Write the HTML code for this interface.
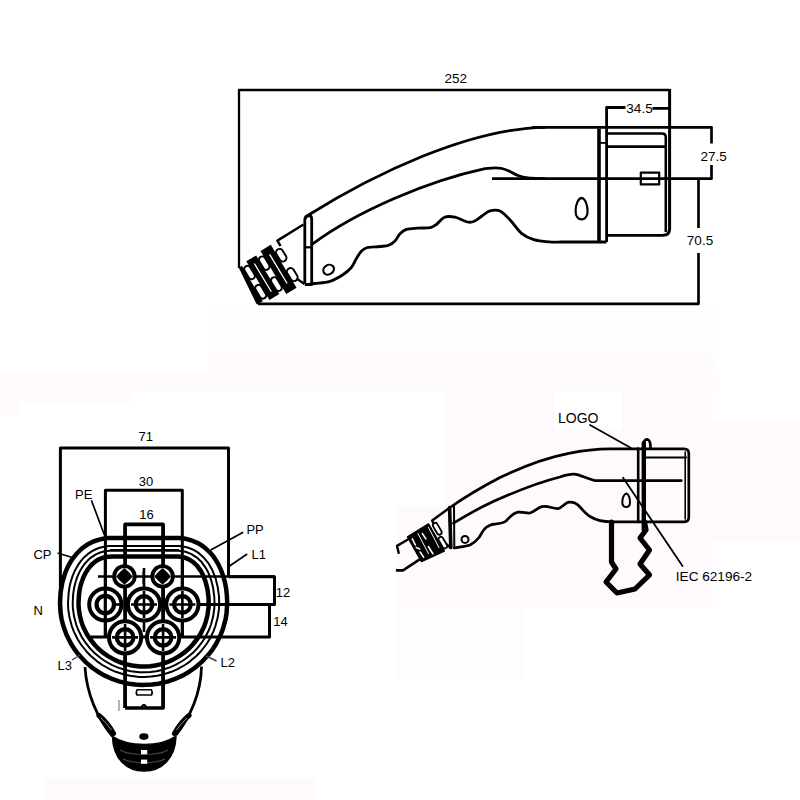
<!DOCTYPE html>
<html><head><meta charset="utf-8"><style>
html,body{margin:0;padding:0;background:#fff;}
svg{display:block;}
text{font-family:"Liberation Sans",sans-serif;fill:#000;}
</style></head><body>
<svg width="800" height="800" viewBox="0 0 800 800">
<g id="bg" stroke="none">
  <rect x="208" y="311" width="512" height="45" fill="#fefdfe"/>
  <rect x="208" y="356" width="508" height="16" fill="#fefafe"/>
  <rect x="0" y="372" width="720" height="20" fill="#fefafe"/>
  <rect x="0" y="392" width="132" height="10" fill="#fefafe"/>
  <rect x="0" y="402" width="20" height="13" fill="#fefafe"/>
  <path d="M445,392 H554 V430 H622 V392 H713 V422 H800 V542 H713 V608 H682 V608 H397 V506 H445 Z" fill="#fdf9fd"/>
  <rect x="397" y="608" width="128" height="72" fill="#fefcfe"/>
  <rect x="45" y="778" width="270" height="22" fill="#fdf9fd"/>
</g>

<g id="top" fill="none" stroke="#000" stroke-width="2.4" stroke-linejoin="round" stroke-linecap="butt">
  <!-- dimension 252 -->
  <path d="M239,268 V90 H669.6" stroke-width="2.3"/>
  <path d="M669.6,89 V229 Q669.6,235.3 663,235.3" stroke-width="3"/>
  <text x="455.7" y="82.9" font-size="13.5" text-anchor="middle" stroke="none">252</text>
  <!-- 34.5 -->
  <path d="M606.6,242 V107.5 H625.5 M652.5,108.3 H669.5" stroke-width="2.8"/>
  <text x="639.5" y="112.6" font-size="13.5" text-anchor="middle" stroke="none">34.5</text>
  <!-- 27.5 -->
  <path d="M532,127.3 H711.5 V143.5 M711.5,165 V178.7 H492" stroke-width="2.7"/>
  <text x="713.7" y="160.6" font-size="13.5" text-anchor="middle" stroke="none">27.5</text>
  <!-- 70.5 -->
  <path d="M698.5,178.7 V228 M698.5,253 V303.8 H258" stroke-width="2.7"/>
  <text x="700" y="244.8" font-size="13.5" text-anchor="middle" stroke="none">70.5</text>
  <!-- body outer top -->
  <path d="M304.8,219 Q306,216 308.5,215"/>
  <path d="M308.5,215.0 C373.3,174.7 467.4,128.7 545.0,127.3" stroke-width="2.8"/>
  <!-- inner line -->
  <path d="M312.0,244.3 C357.8,210.4 429.4,180.5 485.0,168.6 M485.0,168.6 C486.7,168.5 492.2,167.8 495.0,167.8 C497.8,167.8 499.5,167.9 502.0,168.5 C504.5,169.1 507.3,170.3 510.0,171.5 C512.7,172.7 515.0,174.4 518.0,175.5 C521.0,176.6 523.5,177.3 528.0,177.8 C532.5,178.3 542.2,178.5 545.0,178.7" stroke-width="2.8" stroke-linecap="round"/>
  <!-- grip -->
  <path d="M307.0,284.5 C308.3,284.3 311.2,284.0 315.0,283.5 C318.8,283.0 325.4,282.7 330.0,281.3 C334.6,279.9 338.9,277.3 342.5,275.0 C346.1,272.7 349.0,270.2 351.3,267.5 C353.6,264.8 354.6,261.5 356.3,258.8 C358.0,256.1 359.4,253.2 361.3,251.3 C363.2,249.4 364.4,248.3 367.5,247.5 C370.6,246.7 376.4,246.9 380.0,246.5 C383.6,246.1 386.3,246.1 388.8,245.2 C391.3,244.3 393.1,242.9 395.0,241.0 C396.9,239.1 398.1,235.7 400.0,233.8 C401.9,231.9 403.4,230.4 406.3,229.4 C409.2,228.4 413.5,228.4 417.5,228.1 C421.5,227.8 427.2,228.3 430.5,227.6 C433.8,226.9 434.7,225.7 437.0,224.0 C439.3,222.3 441.5,218.3 444.5,217.2 C447.5,216.1 451.2,216.4 455.0,217.2 C458.8,218.0 464.1,221.3 467.3,222.0 C470.5,222.7 471.9,222.3 474.3,221.3 C476.8,220.3 479.4,217.8 482.0,216.0 C484.6,214.2 486.9,211.6 490.0,210.8 C493.1,210.0 497.0,209.5 500.5,211.2 C504.0,212.9 507.5,217.3 511.0,221.0 C514.5,224.7 517.7,230.2 521.5,233.3 C525.3,236.4 529.1,238.2 533.8,239.6 C538.5,241.0 545.1,241.5 549.5,241.9 C553.9,242.3 558.2,242.0 560.0,242.0 H606.5" stroke-width="2.8"/>
  <!-- collar -->
  <path d="M304.8,284 V220 Q305,216 308.5,215.5 Q311.7,215.5 311.7,219 V284.5 H304.8" stroke-width="2.8"/>
  <path d="M304.8,247.3 H311.7" stroke-width="2.2"/>
  <!-- front box -->
  <path d="M599,128.5 V242" stroke-width="3.6"/>
  <path d="M599,142.9 H606.5" stroke-width="1.8"/>
  <path d="M606.5,133.5 H662 Q665.8,133.5 665.8,137.5 V232" stroke-width="2.6"/>
  <path d="M663,235.3 H606.5" stroke-width="2.8"/>
  <path d="M606.5,146.7 H666" stroke-width="2.8"/>
  <rect x="640.8" y="172.6" width="18.4" height="11.8" stroke-width="2.2"/>
  <!-- droplet -->
  <path d="M581.6,197.9 C585.5,198.5 587.6,206 587.6,211 C587.6,216.5 584.8,219.4 581.6,219.4 C578.3,219.4 575.6,216.5 575.6,211 C575.6,205 578,198.5 581.6,197.9 Z" stroke-width="2.2"/>
  <!-- small ellipse -->
  <ellipse cx="328.6" cy="269.7" rx="5.6" ry="4.6" transform="rotate(-35 328.6 269.7)" stroke-width="2.2"/>
  <!-- relief -->
  <g transform="translate(258.5,303) rotate(-31)">
    <path d="M-2.3,0.5 L1.2,-40.3 L5,-40.5 L4.5,0.8 Z" fill="#000" stroke="none"/>
    <path d="M11,-42 H22.5 V3 H11 Z" fill="#000" stroke="none"/>
    <path d="M28.5,-43.5 H40.5 V6.5 H28.5 Z" fill="#000" stroke="none"/>
    <g fill="#fff" stroke="#000" stroke-width="2">
      <rect x="4.7" y="-38" width="6.6" height="14.5" rx="3.3"/>
      <rect x="4.4" y="-16" width="6.6" height="15" rx="3.3"/>
      <rect x="22.2" y="-38.5" width="6.6" height="14.5" rx="3.3"/>
      <rect x="21.8" y="-14.5" width="6.6" height="15" rx="3.3"/>
      <rect x="40.5" y="-36" width="7.2" height="13.5" rx="3.6"/>
      <rect x="40" y="-14" width="7.2" height="14" rx="3.6"/>
    </g>
    <path d="M16.8,-36 V-3 M34.6,-36 V-2" stroke="#fff" stroke-width="1.3"/>
  </g>
  <path d="M303.5,224.5 L277.4,240.6 L280.5,246" stroke-width="2.5"/>
  <path d="M304.5,284 L296.5,278.5" stroke-width="2.4"/>
</g>

<g id="left" fill="none" stroke="#000" stroke-width="2.8" stroke-linejoin="round">
  <!-- 71 box -->
  <path d="M60.4,600 V448 H228.5 V576.9" stroke-width="3"/>
  <text x="145.8" y="441.3" font-size="13" text-anchor="middle" stroke="none">71</text>
  <!-- 30 box -->
  <path d="M105.4,637.4 V490.2 H182.3 V637.4" stroke-width="3"/>
  <text x="146" y="486" font-size="13" text-anchor="middle" stroke="none">30</text>
  <!-- 16 box -->
  <path d="M125.1,708 V524.4 H163.1 V708 H125.1" stroke-width="3.6"/>
  <text x="146.6" y="519" font-size="13" text-anchor="middle" stroke="none">16</text>
  <!-- 12 / 14 -->
  <path d="M228.5,576.7 H274.5 V604.6 H182" stroke-width="3"/>
  <path d="M269.5,604.6 V636.9 H90.5" stroke-width="3"/>
  <text x="283" y="597" font-size="13" text-anchor="middle" stroke="none">12</text>
  <text x="280.5" y="626" font-size="13" text-anchor="middle" stroke="none">14</text>
  <!-- rings -->
  <path d="M227.2,603.0 L226.9,595.8 L226.2,588.9 L224.9,582.1 L223.1,575.7 L220.8,569.6 L218.1,563.9 L214.9,558.6 L213.1,556.1 L209.1,551.6 L204.7,547.6 L199.9,544.2 L197.3,542.8 L191.7,540.5 L185.8,538.8 L179.4,538.0 L176.0,537.9 L108.6,538.0 L105.4,538.3 L99.2,539.6 L93.4,541.5 L88.0,544.2 L83.1,547.6 L80.8,549.5 L76.5,553.8 L72.7,558.6 L71.0,561.2 L67.9,566.7 L65.3,572.6 L62.4,582.1 L60.6,592.3 L60.0,603.0 L60.6,612.8 L61.6,619.2 L63.2,625.5 L66.5,634.8 L70.9,643.5 L74.4,649.1 L78.4,654.3 L85.1,661.6 L92.6,668.0 L98.0,671.7 L103.7,675.1 L112.8,679.2 L119.0,681.4 L128.7,683.7 L135.3,684.6 L141.9,685.0 L151.9,684.6 L158.5,683.7 L168.2,681.4 L174.4,679.2 L183.5,675.1 L189.2,671.7 L194.6,668.0 L202.1,661.6 L208.8,654.3 L212.8,649.1 L216.3,643.5 L220.7,634.8 L223.0,628.6 L225.6,619.2 L226.6,612.8 L227.2,603.0Z" stroke-width="4.5" fill="none"/>
  <path d="M219.2,603.0 L219.0,596.4 L217.7,587.0 L215.5,578.1 L212.3,570.1 L208.3,563.1 L203.4,557.2 L199.7,553.9 L197.8,552.4 L193.6,549.9 L189.1,548.0 L186.7,547.3 L181.6,546.3 L178.8,546.0 L112.1,545.9 L109.1,546.0 L103.8,546.7 L98.8,548.0 L94.2,550.0 L92.1,551.1 L88.0,553.9 L84.2,557.2 L80.8,561.1 L77.8,565.4 L75.1,570.2 L72.8,575.4 L70.9,581.1 L69.5,587.0 L68.6,593.2 L68.0,603.0 L68.2,608.9 L69.5,617.6 L71.8,626.1 L73.9,631.6 L77.8,639.5 L81.0,644.5 L86.5,651.5 L90.6,655.8 L97.4,661.6 L102.3,665.0 L110.2,669.4 L115.7,671.8 L124.2,674.5 L130.1,675.8 L139.1,676.9 L145.1,677.0 L151.1,676.6 L157.1,675.8 L163.0,674.5 L171.5,671.8 L177.0,669.4 L184.9,665.0 L189.8,661.6 L196.6,655.8 L200.7,651.5 L206.2,644.5 L209.4,639.5 L213.3,631.6 L215.4,626.1 L217.7,617.6 L219.0,608.9 L219.2,603.0Z" stroke-width="2"/>
  <path d="M214.5,603.0 L214.3,596.8 L213.1,587.8 L211.0,579.6 L208.1,572.2 L205.7,567.8 L201.6,562.1 L196.8,557.6 L191.5,554.1 L185.5,551.8 L181.0,550.9 L178.5,550.7 L112.2,550.6 L109.4,550.7 L104.7,551.3 L100.3,552.5 L96.3,554.2 L90.9,557.6 L87.6,560.6 L84.5,564.0 L81.8,567.9 L79.3,572.3 L77.2,577.1 L75.5,582.3 L74.1,587.9 L73.2,593.8 L72.7,603.0 L72.9,608.5 L74.1,616.6 L76.2,624.6 L78.2,629.8 L81.9,637.2 L84.9,641.8 L90.0,648.4 L93.9,652.4 L100.3,657.8 L104.9,661.0 L112.2,665.1 L117.4,667.4 L125.4,670.0 L130.9,671.2 L139.4,672.2 L145.0,672.3 L150.7,672.0 L156.3,671.2 L161.8,670.0 L169.8,667.4 L175.0,665.1 L182.3,661.0 L186.9,657.8 L193.3,652.4 L197.2,648.4 L202.3,641.8 L205.3,637.2 L209.0,629.8 L211.0,624.6 L213.1,616.6 L214.3,608.5 L214.5,603.0Z" stroke-width="2"/>
  <path d="M208.7,603.0 L208.5,597.2 L207.4,588.9 L205.5,581.4 L202.9,574.7 L200.8,570.8 L197.2,565.9 L193.2,562.1 L188.9,559.3 L184.0,557.4 L178.2,556.5 L112.3,556.4 L105.8,557.0 L102.2,558.0 L98.9,559.3 L95.9,561.1 L93.0,563.4 L90.4,566.1 L87.9,569.2 L85.6,572.9 L83.5,577.0 L81.0,583.9 L79.8,589.0 L79.0,594.4 L78.5,603.0 L78.7,608.0 L79.8,615.5 L81.7,622.8 L83.5,627.5 L86.9,634.2 L89.7,638.5 L94.4,644.5 L97.9,648.2 L103.7,653.2 L108.0,656.1 L114.7,659.9 L119.5,662.0 L126.9,664.4 L132.0,665.5 L139.7,666.4 L144.9,666.5 L150.1,666.2 L155.2,665.5 L160.3,664.4 L167.7,662.0 L172.5,659.9 L179.2,656.1 L183.5,653.2 L189.3,648.2 L192.8,644.5 L197.5,638.5 L200.3,634.2 L203.7,627.5 L205.5,622.8 L207.4,615.5 L208.5,608.0 L208.7,603.0Z" stroke-width="4.5"/>
  <!-- top bar lines -->
  <path d="M110,546 H179 M110,549.8 H179" stroke-width="1.8"/>
  <!-- grid vertical segments -->
  <path d="M125.1,524.4 V708 M163.1,524.4 V708" stroke-width="3"/>
  <path d="M105.3,560 V637.4 M182.4,560 V637.4" stroke-width="3"/>
  <path d="M144,568 V592 M144,618 V632" stroke-width="2.6"/>
  <path d="M98,576.5 H274.5" stroke-width="2.6"/>
  <!-- small pins -->
  <g fill="#000" stroke="none">
    <circle cx="124.4" cy="576.4" r="12.2"/>
    <circle cx="162.6" cy="576.4" r="12.2"/>
  </g>
  <g fill="#fff" stroke="none">
    <circle cx="124.4" cy="576.4" r="8.3"/>
    <circle cx="162.6" cy="576.4" r="8.3"/>
  </g>
  <g fill="#000" stroke="none">
    <path transform="translate(124.4,576.4)" d="M0,-8.3 Q4.5,-4.5 8.3,0 Q4.5,4.5 0,8.3 Q-4.5,4.5 -8.3,0 Q-4.5,-4.5 0,-8.3 Z"/>
    <path transform="translate(162.6,576.4)" d="M0,-8.3 Q4.5,-4.5 8.3,0 Q4.5,4.5 0,8.3 Q-4.5,4.5 -8.3,0 Q-4.5,-4.5 0,-8.3 Z"/>
  </g>
  <path d="M143.7,571.6 V584" stroke-width="2.4"/>
  <!-- big pins -->
  <g stroke-width="4" fill="#fff">
    <circle cx="105.3" cy="604.5" r="16.1"/>
    <circle cx="144" cy="604.5" r="16.1"/>
    <circle cx="182.4" cy="604.5" r="16.1"/>
    <circle cx="125.1" cy="637.4" r="16.1"/>
    <circle cx="163.1" cy="637.4" r="16.1"/>
  </g>
  <g stroke-width="4.2">
    <circle cx="105.3" cy="604.5" r="8.7"/>
    <circle cx="144" cy="604.5" r="8.3"/>
    <circle cx="182.4" cy="604.5" r="8.3"/>
    <circle cx="125.1" cy="637.4" r="8.3"/>
    <circle cx="163.1" cy="637.4" r="8.3"/>
  </g>
  <path d="M105.3,588 V621" stroke-width="3.2"/>
  <path d="M113,604.5 H120" stroke-width="2.6"/>
  <path d="M131,604.5 H157 M144,591 V618 M169.4,604.5 H195.4 M182.4,591 V618 M112.1,637.4 H138.1 M125.1,624 V651 M150.1,637.4 H176.1 M163.1,624 V651" stroke-width="2.6"/>
  <!-- leaders -->
  <path d="M91.4,500.3 L104.4,535" stroke-width="1.7"/>
  <path d="M57.6,553.1 L72.3,557.6" stroke-width="1.6"/>
  <path d="M243.2,532.2 L210.7,550" stroke-width="1.8"/>
  <path d="M247.2,554.1 L227.7,567.2" stroke-width="1.8"/>
  <path d="M216.6,661 L206,656" stroke-width="1.4" stroke="#444"/>
  <path d="M72,660 L80,655" stroke-width="1.4" stroke="#444"/>
  <g stroke="none" font-size="13">
    <text x="75" y="498.6">PE</text>
    <text x="33.4" y="558.7">CP</text>
    <text x="33.6" y="615.3">N</text>
    <text x="57.6" y="670.3">L3</text>
    <text x="220.6" y="666.9">L2</text>
    <text x="246.4" y="533.6">PP</text>
    <text x="251.5" y="558.9">L1</text>
  </g>
  <!-- lower handle -->
  <path d="M85,667 C86.5,693 97,718 112.5,736.4" stroke-width="2.8"/>
  <path d="M201.5,666.5 C201,693 190,718 175.9,735" stroke-width="2.8"/>
  <path d="M99,715.5 Q107,722 113.5,733.5" stroke-width="5.2" stroke-linecap="round"/>
  <path d="M101,718 Q107,723.5 111.5,730" stroke="#fff" stroke-width="0.8" opacity="0.7"/>
  <path d="M189,715.5 Q181,722 174.5,733.5" stroke-width="5.2" stroke-linecap="round"/>
  <path d="M187,718 Q181,723.5 176.5,730" stroke="#fff" stroke-width="0.8" opacity="0.7"/>
  <path d="M112.5,736.4 C113,759 127,771 144,771 C161,771 175.5,759 176,736 C166,743 154,744.5 144.4,744.5 C134,744.5 122,743 112.5,736.4 Z" fill="#000" stroke-width="1.5"/>
  <path d="M120,750 C130,756 158,756 168,750 M123,759 C133,764 155,764 165,759" stroke="#555" stroke-width="1.2" opacity="0.8"/>
  <rect x="141" y="750" width="6.2" height="4.2" fill="#fff" stroke="none"/>
  <rect x="141" y="759.6" width="6.2" height="4.2" fill="#fff" stroke="none"/>
  <ellipse cx="143.9" cy="736.6" rx="4.6" ry="3.3" fill="#000" stroke="none"/>
  <path d="M119,700 V711" stroke="#999" stroke-width="1.5"/>
  <path d="M141.5,707 Q143.9,702.5 146.3,707" stroke-width="2"/>
  <path d="M137,689.8 H151.5 Q153,692.5 151.5,695 H137 Q135.5,692.5 137,689.8 Z" stroke-width="1.6"/>
</g>

<g id="right" fill="none" stroke="#000" stroke-width="2.5" stroke-linejoin="round" stroke-linecap="round">
  <text x="558" y="422.8" font-size="14" stroke="none">LOGO</text>
  <path d="M590,425 L630.6,447.8" stroke-width="1.8"/>
  <!-- outer top -->
  <path d="M450,507.5 C462,499 478,489 500,477.5 C520,468 545,458 568.8,453.4 C580,451 595,448.8 610,448.8 H684 Q688.8,448.8 688.8,453.5 V517 Q688.8,521.9 684,521.9 H641.9" stroke-width="2.7"/>
  <!-- inner line -->
  <path d="M453.5,523.2 C462,518 475,510.5 485,505.5 C490,503 495,500.5 500,498.5 C515,492 540,482 560,477 C566,475 570,474 574,474.2 C580,474.6 586,478.5 595,480.6 H681.3" stroke-width="2.7"/>
  <!-- grip -->
  <path d="M454.3,548 C460,547 466,546.5 470,545 C474,543 477,540 479,537.5 C482,533 483,530 486,527.5 C489,525 492,524 496,523.8 C500,523.5 503,523.2 506,521 C509,518 513,513 518,512.2 C523,511.5 526,513.5 530,513 C534,512 537,508 542,506.6 C548,505.5 552,508.5 557.5,508.7 C562,508.5 565,502.5 569,502.2 C573,502 577,503.5 580,507 C583,510.5 586,514 590,516.5 C595,519.5 602,521.9 612,521.9 H641.9" stroke-width="2.7"/>
  <!-- box inner -->
  <path d="M646,457.5 H686" stroke-width="2.2"/>
  <path d="M685.2,452 V519" stroke-width="1.6"/>
  <path d="M638.2,448.5 V521.9" stroke-width="2.6"/>
  <!-- latch -->
  <path d="M643.8,530 V443" stroke-width="4.4"/>
  <path d="M643.6,446 Q643.6,439.2 647.3,439.3 Q650.6,439.8 650.6,448.5" stroke-width="2.8"/>
  <path d="M611.5,522 V562 L616,569 L606,582 L617,593 L635,589 L649.5,575 L640,564 L649.5,550 L640,538 L646,530 L644.5,522" stroke-width="5.2" stroke-linejoin="round"/>
  <!-- droplet -->
  <path d="M626.3,493.5 C629,494 630,499 630,502 C630,505.5 628.5,507 626.3,507 C624,507 622.3,505.5 622.3,502 C622.3,498.5 623.8,494 626.3,493.5 Z" stroke-width="2"/>
  <!-- small circle -->
  <circle cx="465" cy="539.4" r="3.5" stroke-width="2"/>
  <!-- IEC leader -->
  <path d="M623.1,477.8 L682.5,566" stroke-width="1.8"/>
  <text x="675.8" y="580.8" font-size="13.6" stroke="none">IEC 62196-2</text>
  <!-- collar -->
  <path d="M449.6,507.5 L450.8,547.5" stroke-width="3.6"/>
  <path d="M454,506 L454.3,548" stroke-width="2"/>
  <!-- neck -->
  <path d="M450,507.5 L432.2,520.6 L433.5,523.5" stroke-width="2.5"/>
  <path d="M451,548 L446,544" stroke-width="2.5"/>
  <!-- relief -->
  <path d="M407.5,537 L428.5,524 L444.3,551.1 L421.5,561.6 Z" fill="#000" stroke-width="1.5"/>
  <g stroke="#fff" stroke-width="1.6" stroke-linecap="round">
    <path d="M412.3,538.9 L415.4,545 M420.2,552 L423.7,557.2 M422.4,533.6 L425.9,538.9 M428.5,546.7 L432.9,553.7 M432.9,527.5 L436.4,532.7 M439,540.6 L443,546.7 M416.2,547.6 L419.7,548.9"/>
    <path d="M418,533.6 L428.5,553.7 M428.5,527.5 L439,547.6" stroke-width="1"/>
  </g>
  <path d="M435.3,525.3 L439.3,532.3 M440.8,539.3 L444.8,546" stroke-width="6.6" stroke-linecap="round"/>
  <path d="M435.3,525.3 L439.3,532.3 M440.8,539.3 L444.8,546" stroke="#fff" stroke-width="3" stroke-linecap="round"/>
  <!-- cable -->
  <path d="M407.5,539.7 L397,545.9 L398.7,552.9" stroke-width="2.4"/>
  <path d="M418.9,559.9 L403,570.4 H397" stroke-width="2.6"/>
</g>

</svg>
</body></html>
